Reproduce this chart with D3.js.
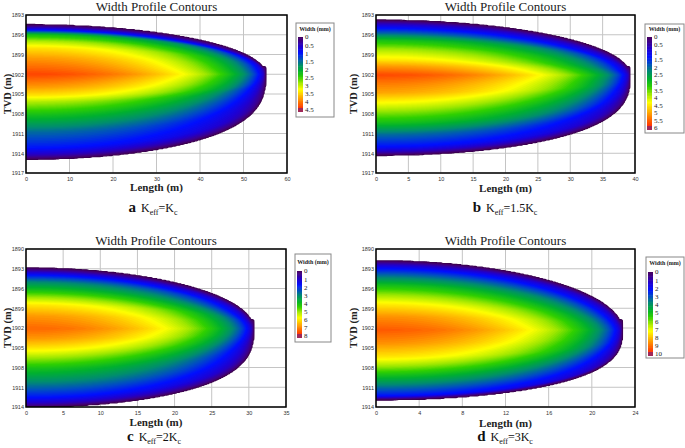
<!DOCTYPE html>
<html><head><meta charset="utf-8">
<script src="https://cdn.jsdelivr.net/npm/d3@7"></script>
<style>body{margin:0;background:#fff}svg{display:block}</style>
</head><body>
<svg id="chart" width="685" height="448"></svg>
<script>
// ---------------- data ----------------
const panelLetters = ["a", "b", "c", "d"];
const keffCoef = ["", "1.5", "2", "3"];
const chartTitle = "Width Profile Contours";
const xMaxValues = [60, 40, 35, 24];
const xTickSteps = [10, 5, 5, 4];
const yMinValues = [1893, 1893, 1890, 1890];
const yMaxValues = [1917, 1917, 1914, 1914];
const yTickStep = 3;
const tipLengths = [55, 39.2, 30.6, 22.8];
const legendMaxValues = [4.5, 6, 8, 10];
const legendSteps = [0.5, 0.5, 1, 1];

// width profile at the wellbore (Length = 0): depth (m) and width (mm)
const profileDepthA = [1894.5, 1894.9, 1895.3, 1896.0, 1897.0, 1898.0, 1899.5, 1902.0, 1904.0, 1905.2, 1906.2, 1908.2, 1910.8, 1913.2, 1914.3, 1914.9];
const profileWidthA = [0, 0.45, 1.0, 2.25, 2.9, 3.4, 3.8, 4.3, 3.8, 3.4, 2.9, 2.25, 1.5, 1.0, 0.45, 0];
const profileDepthB = [1893.8, 1894.3, 1895.0, 1895.8, 1896.8, 1898.2, 1899.8, 1900.8, 1902.1, 1903.5, 1904.8, 1905.9, 1907.5, 1909.4, 1911.2, 1913.0, 1913.8, 1914.3];
const profileWidthB = [0, 0.6, 1.3, 2.0, 3.0, 3.8, 4.5, 5.1, 5.7, 5.3, 5.0, 4.5, 3.8, 3.0, 2.0, 1.3, 0.6, 0];
const profileDepthC = [1892.9, 1893.4, 1894.0, 1895.0, 1896.2, 1897.3, 1898.5, 1900.2, 1902.1, 1903.6, 1905.1, 1906.6, 1908.2, 1910.3, 1912.5, 1913.5, 1914.0];
const profileWidthC = [0, 0.8, 1.8, 3.0, 4.0, 5.0, 6.0, 6.8, 7.3, 6.8, 6.0, 5.0, 4.0, 3.0, 1.8, 0.8, 0];
const profileDepthD = [1891.8, 1892.3, 1893.0, 1894.2, 1895.5, 1897.0, 1898.5, 1900.3, 1902.3, 1904.3, 1906.4, 1907.8, 1909.2, 1910.8, 1912.3, 1912.6, 1912.9];
const profileWidthD = [0, 1.0, 2.2, 3.6, 5.0, 6.3, 7.5, 8.6, 9.3, 8.6, 7.5, 6.3, 5.0, 3.6, 2.2, 1.0, 0];
const profileDepths = [profileDepthA, profileDepthB, profileDepthC, profileDepthD];
const profileWidths = [profileWidthA, profileWidthB, profileWidthC, profileWidthD];

// colour map stops (fraction of legend maximum)
const cmapStops = [0, 0.06, 0.13, 0.22, 0.30, 0.38, 0.46, 0.55, 0.63, 0.72, 0.80, 0.88, 0.95, 1];
const cmapColors = ["#46005a", "#3c0090", "#2000d0", "#0010ff", "#0050c0", "#008c70", "#00b030", "#30d000", "#a0e800", "#ffff00", "#ffc000", "#ff8000", "#ff4800", "#ff2010"];

// ---------------- layout ----------------
const layout = [
  {px0: 26, px1: 287, py0: 15, py1: 173, titleY: 11, lenY: 191, tvdX: 11, capY: 212, capX: 153,
   lg: {x: 296, y: 23, w: 38, h: 94, bx: 298, bw: 5, by0: 37, by1: 110, ty: 31}},
  {px0: 376, px1: 635, py0: 15, py1: 173, titleY: 11, lenY: 192, tvdX: 357, capY: 212, capX: 505,
   lg: {x: 645, y: 24, w: 39, h: 109, bx: 647, bw: 5, by0: 37, by1: 128, ty: 31}},
  {px0: 26, px1: 286, py0: 249, py1: 407, titleY: 245, lenY: 426, tvdX: 11, capY: 441, capX: 154,
   lg: {x: 295, y: 254, w: 36, h: 88, bx: 297, bw: 5, by0: 271, by1: 336, ty: 264}},
  {px0: 376, px1: 635, py0: 249, py1: 407, titleY: 245, lenY: 427, tvdX: 357, capY: 441, capX: 505,
   lg: {x: 646, y: 257, w: 38, h: 101, bx: 648, bw: 5, by0: 272, by1: 354, ty: 265}}
];

const svg = d3.select("#chart");
const cmap = d3.scaleLinear().domain(cmapStops).range(cmapColors).interpolate(d3.interpolateRgb).clamp(true);

function makeField(i) {
  const L = tipLengths[i];
  const dep = profileDepths[i], wid = profileWidths[i];
  const c = dep[d3.maxIndex(wid)];
  const P = d3.scaleLinear().domain(dep).range(wid);
  return (x, z) => {
    if (x < 0 || x > L) return 0;
    const u2 = (x / L) * (x / L);
    const k = Math.sqrt(1 - u2);
    const s = z < c ? Math.max(Math.sqrt(1 - u2), 0.15) : Math.max(Math.pow(1 - u2, 0.35), 0.15);
    const z0 = c + (z - c) / s;
    if (z0 <= dep[0] || z0 >= dep[dep.length - 1]) return 0;
    return k * P(z0);
  };
}

const panelIds = d3.range(4);
panelIds.forEach(i => {
  const lay = layout[i];
  const g = svg.append("g");
  const x = d3.scaleLinear().domain([0, xMaxValues[i]]).range([lay.px0, lay.px1]);
  const y = d3.scaleLinear().domain([yMinValues[i], yMaxValues[i]]).range([lay.py0, lay.py1]);
  const xt = d3.range(0, xMaxValues[i] + 1e-9, xTickSteps[i]);
  const yt = d3.range(yMinValues[i], yMaxValues[i] + 1e-9, yTickStep);

  // grid
  g.append("g").selectAll("line.v").data(xt).join("line")
    .attr("x1", d => x(d)).attr("x2", d => x(d)).attr("y1", lay.py0).attr("y2", lay.py1)
    .attr("stroke", "#c4c4c4").attr("stroke-width", 1);
  g.append("g").selectAll("line.h").data(yt).join("line")
    .attr("y1", d => y(d)).attr("y2", d => y(d)).attr("x1", lay.px0).attr("x2", lay.px1)
    .attr("stroke", "#c4c4c4").attr("stroke-width", 1);

  // field and contours
  const field = makeField(i);
  const nx = 280, ny = 180;
  const dx = xMaxValues[i] / nx, dz = (yMaxValues[i] - yMinValues[i]) / ny;
  const values = new Array(nx * ny);
  for (let j = 0; j < ny; j++) for (let k = 0; k < nx; k++)
    values[j * nx + k] = field((k + 0.5) * dx, yMinValues[i] + (j + 0.5) * dz);
  const lmax = legendMaxValues[i];
  const step = lmax / 90;
  const eps = lmax * 0.002;
  const thresholds = [eps].concat(d3.range(step, lmax, step));
  const contours = d3.contours().size([nx, ny]).thresholds(thresholds)(values);
  const proj = d3.geoTransform({
    point: function (gx, gy) { this.stream.point(x(gx * dx), y(yMinValues[i] + gy * dz)); }
  });
  const path = d3.geoPath(proj);
  const clipId = "clip" + i;
  svg.append("clipPath").attr("id", clipId).append("rect")
    .attr("x", lay.px0).attr("y", lay.py0).attr("width", lay.px1 - lay.px0).attr("height", lay.py1 - lay.py0);
  const cg = g.append("g").attr("clip-path", `url(#${clipId})`);
  cg.selectAll("path.band").data(contours).join("path")
    .attr("d", path)
    .attr("fill", (d, idx) => idx === 0 ? cmap(0) : cmap((d.value + step / 2) / lmax))
    .attr("stroke", (d, idx) => idx === 0 ? "#3a0050" : "none")
    .attr("stroke-width", 1.2);

  // frame
  g.append("rect").attr("x", lay.px0).attr("y", lay.py0)
    .attr("width", lay.px1 - lay.px0).attr("height", lay.py1 - lay.py0)
    .attr("fill", "none").attr("stroke", "#000").attr("stroke-width", 1.5);

  // axes
  const ax = g.append("g").attr("transform", `translate(0,${lay.py1})`)
    .call(d3.axisBottom(x).tickValues(xt).tickSize(0).tickPadding(4).tickFormat(d3.format("d")));
  const ay = g.append("g").attr("transform", `translate(${lay.px0},0)`)
    .call(d3.axisLeft(y).tickValues(yt).tickSize(0).tickPadding(2).tickFormat(d3.format("d")));
  [ax, ay].forEach(a => {
    a.select(".domain").remove();
    a.selectAll("text").attr("font-size", 5.5).attr("font-family", "Liberation Sans").attr("fill", "#333");
  });

  // titles
  const cx = (lay.px0 + lay.px1) / 2;
  g.append("text").attr("x", cx).attr("y", lay.titleY).attr("text-anchor", "middle")
    .attr("font-family", "Liberation Serif").attr("font-size", 13).attr("fill", "#222").text(chartTitle);
  g.append("text").attr("x", cx).attr("y", lay.lenY).attr("text-anchor", "middle")
    .attr("font-family", "Liberation Serif").attr("font-weight", "bold").attr("font-size", 11).attr("fill", "#222").text("Length (m)");
  g.append("text").attr("transform", `translate(${lay.tvdX},${(lay.py0 + lay.py1) / 2}) rotate(-90)`)
    .attr("text-anchor", "middle").attr("font-family", "Liberation Serif").attr("font-weight", "bold")
    .attr("font-size", 10.5).attr("fill", "#222").text("TVD (m)");

  // caption
  const cap = g.append("text").attr("x", lay.capX).attr("y", lay.capY).attr("text-anchor", "middle")
    .attr("font-family", "Liberation Serif").attr("fill", "#111");
  cap.append("tspan").attr("font-weight", "bold").attr("font-size", 15).text(panelLetters[i]);
  cap.append("tspan").attr("font-size", 12).attr("dx", 5).text("K");
  cap.append("tspan").attr("font-size", 8).attr("dy", 2.5).text("eff");
  cap.append("tspan").attr("font-size", 12).attr("dy", -2.5).text("=" + keffCoef[i] + "K");
  cap.append("tspan").attr("font-size", 8).attr("dy", 2.5).text("c");

  // legend
  const lg = lay.lg;
  const lgG = g.append("g");
  lgG.append("rect").attr("x", lg.x).attr("y", lg.y).attr("width", lg.w).attr("height", lg.h)
    .attr("fill", "#fff").attr("stroke", "#888").attr("stroke-width", 1);
  lgG.append("text").attr("x", lg.x + lg.w / 2).attr("y", lg.ty).attr("text-anchor", "middle")
    .attr("font-family", "Liberation Serif").attr("font-weight", "bold").attr("font-size", 6).attr("fill", "#222")
    .text("Width (mm)");
  const ly = d3.scaleLinear().domain([0, lmax]).range([lg.by0, lg.by1]);
  const nb = 60;
  const bins = d3.range(nb).map(b => b * lmax / nb);
  lgG.selectAll("rect.bin").data(bins).join("rect")
    .attr("x", lg.bx).attr("width", lg.bw)
    .attr("y", d => ly(d)).attr("height", d => ly(d + lmax / nb) - ly(d) + 0.6)
    .attr("fill", d => cmap((d + lmax / nb / 2) / lmax));
  lgG.append("rect").attr("x", lg.bx).attr("width", lg.bw).attr("y", lg.by1 - 2).attr("height", 4)
    .attr("fill", "#a02858");
  const lt = d3.range(0, lmax + 1e-9, legendSteps[i]);
  lgG.selectAll("text.lt").data(lt).join("text")
    .attr("x", lg.bx + lg.bw + 2).attr("y", d => ly(d)).attr("dy", "0.35em")
    .attr("font-family", "Liberation Serif").attr("font-size", 7).attr("fill", "#222")
    .text(d => d3.format("~g")(d));
});
</script>
</body></html>
